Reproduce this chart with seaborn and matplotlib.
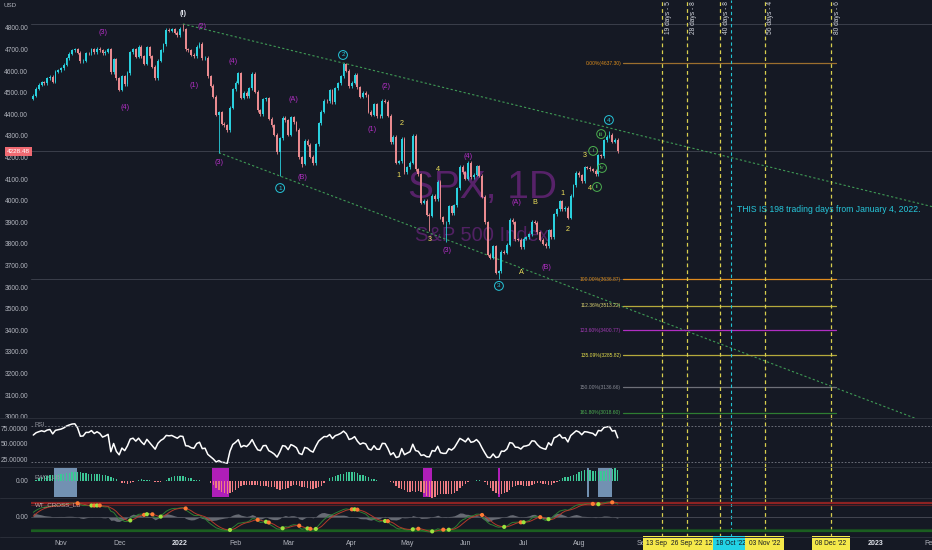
import numpy as np
import pandas as pd
import seaborn as sns
import matplotlib.pyplot as plt
import matplotlib.transforms as mtransforms

# ---- S&P 500 daily closes ----
# warm-up closes before the first visible bar (only seed the indicators)
warm_aug21 = [4479.53, 4486.23, 4496.19, 4470.00, 4509.37, 4528.79, 4522.68]
warm_sep21 = [4524.09, 4536.95, 4535.43, 4520.03, 4514.07, 4493.28, 4458.58, 4468.73,
              4443.05, 4480.70, 4473.75, 4432.99, 4357.73, 4354.19, 4395.64, 4448.98,
              4455.48, 4443.11, 4352.63, 4359.46, 4307.54]
warm_oct21 = [4357.04, 4300.46, 4345.72, 4363.55, 4399.76, 4391.34, 4361.19, 4350.65,
              4363.80, 4438.26, 4471.37]

close_oct21 = [4486.46, 4519.63, 4536.19, 4549.78, 4544.90, 4566.48, 4574.79, 4551.68,
               4596.42, 4605.38]
close_nov21 = [4613.67, 4630.65, 4660.57, 4680.06, 4697.53, 4701.70, 4685.25, 4646.71,
               4649.27, 4682.85, 4682.80, 4700.90, 4688.67, 4704.54, 4697.96, 4682.94,
               4690.70, 4701.46, 4594.62, 4655.27, 4567.00]
close_dec21 = [4513.04, 4577.10, 4538.43, 4591.67, 4686.75, 4701.21, 4667.45, 4712.02,
               4668.97, 4634.09, 4709.85, 4668.67, 4620.64, 4568.02, 4649.23, 4696.56,
               4725.79, 4791.19, 4786.35, 4793.06, 4778.73, 4766.18]
close_jan22 = [4796.56, 4793.54, 4700.58, 4696.05, 4677.03, 4670.29, 4713.07, 4726.35,
               4659.03, 4662.85, 4577.11, 4532.76, 4482.73, 4397.94, 4410.13, 4356.45,
               4349.93, 4326.51, 4431.85, 4515.55]
close_feb22 = [4546.54, 4589.38, 4477.44, 4500.53, 4483.87, 4521.54, 4587.18, 4504.08,
               4418.64, 4401.67, 4471.07, 4475.01, 4380.26, 4348.87, 4304.76, 4225.50,
               4288.70, 4384.65, 4373.94]
close_mar22 = [4306.26, 4386.54, 4363.49, 4328.87, 4201.09, 4170.70, 4277.88, 4259.52,
               4204.31, 4173.11, 4262.45, 4357.86, 4411.67, 4463.12, 4461.18, 4511.61,
               4456.24, 4520.16, 4543.06, 4575.52, 4631.60, 4602.45, 4530.41]
close_apr22 = [4545.86, 4582.64, 4525.12, 4481.15, 4500.21, 4488.28, 4412.53, 4397.45,
               4446.59, 4392.59, 4391.69, 4462.21, 4459.45, 4393.66, 4271.78, 4296.12,
               4175.20, 4183.96, 4287.50, 4131.93]
close_may22 = [4155.38, 4175.48, 4300.17, 4146.87, 4123.34, 3991.24, 4001.05, 3935.18,
               3930.08, 4023.89, 4008.01, 4088.85, 3923.68, 3900.79, 3901.36, 3973.75,
               3941.48, 3978.73, 4057.84, 4158.24, 4132.15]
close_jun22 = [4101.23, 4176.82, 4108.54, 4121.43, 4160.68, 4115.77, 4017.82, 3900.86,
               3749.63, 3735.48, 3789.99, 3666.77, 3674.84, 3764.79, 3759.89, 3795.73,
               3911.74, 3900.11, 3821.55, 3818.83, 3785.38]
close_jul22 = [3825.33, 3831.39, 3845.08, 3902.62, 3899.38, 3854.43, 3818.80, 3801.78,
               3790.38, 3863.16, 3830.85, 3936.69, 3959.90, 3998.95, 3961.63, 3966.84,
               3921.05, 4023.61, 4072.43, 4130.29]
close_aug22 = [4118.63, 4091.19, 4155.17, 4151.94, 4145.19, 4140.06, 4122.47, 4210.24,
               4207.27, 4280.15, 4297.14, 4305.20, 4274.04, 4283.74, 4228.48]

# notable wick extremes
wick_dates = ['2022-01-04', '2022-01-24', '2022-02-24', '2022-03-08', '2022-03-29',
              '2022-05-20', '2022-06-17', '2022-08-16', '2021-12-01', '2022-05-12']
wick_prices = [4818.62, 4222.62, 4114.65, 4157.87, 4637.30, 3810.32, 3636.87, 4325.28,
               4510.27, 3858.87]

market_holidays = ['2021-11-25', '2021-12-24', '2022-01-17', '2022-02-21', '2022-04-15',
                   '2022-05-30', '2022-06-20', '2022-07-04', '2022-09-05', '2022-11-24',
                   '2022-12-26', '2023-01-02', '2023-01-16']

# fibonacci levels
fib_pct = ['0.00%', '100.00%', '112.36%', '123.60%', '135.09%', '150.00%', '161.80%']
fib_price = [4637.30, 3636.87, 3513.22, 3400.77, 3285.82, 3136.66, 3018.60]
fib_line_col = ['#9c6f2e', '#e08a1e', '#b5a93c', '#b02ec2', '#b5a93c', '#6e7079', '#2e7d32']
fib_text_col = ['#d98b1c', '#d98b1c', '#d8d070', '#a33bb5', '#e2dc4c', '#868993', '#4caf50']

# time cycle projections
cycle_dates = ['2022-09-13', '2022-09-26', '2022-10-12', '2022-11-03', '2022-12-08']
cycle_tags = ['19 days - 5', '28 days - 8', '40 days - 8', '56 days - 4', '80 days - 6']
cycle_boxes = ["13 Sep '22", "26 Sep '22", "12 Oct '22", "03 Nov '22", "08 Dec '22"]
mark_date = '2022-10-18'
mark_box = "18 Oct '22"

# elliott wave labels: text, bar index, price, kind
wave_text = ['(3)', '(4)', '(I)', '(2)', '(1)', '(4)', '(3)', '(A)', '(B)', '1', '2',
             '(2)', '(1)', '2', '1', '4', '(4)', '3', '(3)', '(A)', 'B', 'A', '(B)', '3',
             '1', '2', '3', 'i', 'iii', '4', 'iv', '4', 'ii']
wave_idx = [25.2, 33.1, 54.0, 60.9, 58.0, 72.1, 67.0, 93.8, 97.0, 89.1, 111.8,
            127.3, 122.3, 133.1, 132.0, 146.1, 156.9, 143.2, 149.3, 174.3, 181.1, 176.1,
            185.1, 168.1, 191.2, 193.0, 199.2, 202.1, 205.0, 207.8, 205.3, 201.0, 203.5]
wave_price = [4781, 4430, 4869, 4805, 4536, 4647, 4175, 4467, 4106, 4059, 4675,
              4531, 4332, 4360, 4119, 4143, 4203, 3823, 3772, 3994, 3994, 3670,
              3689, 3606, 4036, 3869, 4212, 4231, 4309, 4374, 4152, 4055, 4064]
wave_kind = ['p', 'p', 'w', 'p', 'p', 'p', 'p', 'p', 'p', 'c', 'c',
             'p', 'p', 'y', 'y', 'y', 'p', 'y', 'p', 'p', 'y', 'y', 'p', 'c',
             'y', 'y', 'y', 'g', 'g', 'c', 'g', 'y', 'g']

# oscillator highlight boxes (bar index ranges)
blue_spans = [(7.5, 15.8), (199.9, 200.6), (203.9, 208.9)]
magenta_spans = [(64.5, 70.7), (140.7, 143.9), (167.8, 168.5)]

# ---------------------------------------------------------------
BG = '#151924'
TXT = '#b2b5be'
UP = '#2ad0de'
DOWN = '#e98a8f'

warm = warm_aug21 + warm_sep21 + warm_oct21
closes = (close_oct21 + close_nov21 + close_dec21 + close_jan22 + close_feb22 + close_mar22
          + close_apr22 + close_may22 + close_jun22 + close_jul22 + close_aug22)
n_warm = len(warm)
dates = pd.bdate_range('2021-10-18', '2022-08-19', freq='C', holidays=market_holidays)
future = pd.bdate_range('2022-08-22', '2023-03-31', freq='C', holidays=market_holidays)
assert len(dates) == len(closes)
calendar = dates.append(future)
pos = pd.Series(np.arange(len(calendar)), index=calendar)

allc = pd.Series(warm + closes, dtype=float)
x = np.arange(len(closes))
df = pd.DataFrame({'x': x, 'close': closes})
df['open'] = allc.shift(1).iloc[n_warm:].values
df['lo'] = df[['open', 'close']].min(axis=1) - 7
df['hi'] = df[['open', 'close']].max(axis=1) + 7
for d, p in zip(wick_dates, wick_prices):
    i = pos[pd.Timestamp(d)]
    if p < df.loc[i, 'lo']:
        df.loc[i, 'lo'] = p
    else:
        df.loc[i, 'hi'] = max(p, df.loc[i, 'hi'])

# indicators
RSI_LEN = 10
delta = allc.diff()
up = delta.clip(lower=0).ewm(alpha=1 / RSI_LEN, adjust=False).mean()
dn = (-delta.clip(upper=0)).ewm(alpha=1 / RSI_LEN, adjust=False).mean()
rsi = (100 - 100 / (1 + up / dn)).iloc[n_warm:].values

ewo = (allc.rolling(5).mean() - allc.rolling(35).mean()).iloc[n_warm:].values

esa = allc.ewm(span=10, adjust=False).mean()
dev = (allc - esa).abs().ewm(span=10, adjust=False).mean()
ci = (allc - esa) / (0.015 * dev)
wt1_all = ci.ewm(span=21, adjust=False).mean()
wt2_all = wt1_all.rolling(4).mean()
wt1 = wt1_all.iloc[n_warm:].values
wt2 = wt2_all.iloc[n_warm:].values
diff = wt1 - wt2
cross = np.r_[False, np.sign(diff[1:]) != np.sign(diff[:-1])]

sns.set_theme(style='dark', rc={'axes.facecolor': BG, 'figure.facecolor': BG,
                                'axes.edgecolor': BG, 'text.color': TXT})
plt.rcParams['font.family'] = ['Liberation Sans', 'DejaVu Sans']

W, H = 932, 550
fig = plt.figure(figsize=(W / 100, H / 100), dpi=100)
L = 31 / W


def pane(top, bottom):
    return fig.add_axes([L, (H - bottom) / H, 1 - L, (bottom - top) / H])


ax = pane(0, 418)
ax_rsi = pane(418, 467)
ax_ewo = pane(467, 498)
ax_wt = pane(498, 537)
axes = [ax, ax_rsi, ax_ewo, ax_wt]

XMIN, XMAX = -0.83, 324.44
for a in axes:
    a.set_facecolor(BG)
    for s in a.spines.values():
        s.set_visible(False)
    a.tick_params(axis='both', length=0, labelsize=4.8, labelcolor=TXT, pad=2)

# ---- main price pane ----
ticks = np.arange(3000, 4801, 100)
ax.set_yticks(ticks)
ax.set_yticklabels([f'{t:.2f}' for t in ticks])
ax.text(-0.031, 0.992, 'USD', transform=ax.transAxes, fontsize=4.5, color=TXT, va='top')

ax.text(162, 4059, 'SPX, 1D', fontsize=28, color='#8e2aa3', alpha=0.55, ha='center',
        va='center', zorder=0)
ax.text(162, 3837, 'S&P 500 Index', fontsize=14.5, color='#8e2aa3', alpha=0.5,
        ha='center', va='center', zorder=0)

for p in [4818.62, closes[-1], 3636.87]:
    ax.axhline(p, color='#3b3f4b', lw=0.7, zorder=1)

up_mask = df['close'] >= df['open']
cols = np.where(up_mask, UP, DOWN)
ax.vlines(df['x'], df['lo'], df['hi'], colors=cols, lw=0.6, zorder=3)
ax.bar(df['x'], (df['close'] - df['open']).abs().clip(lower=2.5),
       bottom=df[['open', 'close']].min(axis=1), width=0.68, color=cols, zorder=4,
       linewidth=0)

# price tag
tr = mtransforms.blended_transform_factory(ax.transAxes, ax.transData)
ax.text(-0.0015, closes[-1], f'{closes[-1]:.2f}', transform=tr, ha='right', va='center',
        fontsize=4.6, color='white',
        bbox=dict(boxstyle='square,pad=0.3', fc='#f06a72', ec='none'))


# trend channel
def ray(ax_, x0, y0, x1, y1):
    slope = (y1 - y0) / (x1 - x0)
    ax_.plot([x0, XMAX], [y0, y0 + slope * (XMAX - x0)], color='#3f9a55', lw=0.8,
             ls=(0, (2, 2)), zorder=2)


ray(ax, 54, 4818.62, 112, 4637.30)
ray(ax, 67, 4222.62, 318, 2995)

# fibonacci levels
fx0, fx1 = pos[pd.Timestamp('2022-08-22')] + 1, pos[pd.Timestamp('2022-12-09')] + 0.7
for pct, p, lc, tc in zip(fib_pct, fib_price, fib_line_col, fib_text_col):
    ax.plot([fx0, fx1], [p, p], color=lc, lw=0.9, zorder=2)
    ax.text(fx0 - 0.8, p, f'{pct}({p:.2f})', color=tc, fontsize=3.6, ha='right',
            va='center')

# cycle lines
for a in axes:
    for d in cycle_dates:
        a.axvline(pos[pd.Timestamp(d)], color='#d8cf4e', lw=0.9, ls=(0, (3, 2.5)), zorder=2)
    a.axvline(pos[pd.Timestamp(mark_date)], color='#22c4d4', lw=0.8, ls=(0, (3, 2.5)),
              zorder=2)
ttr = mtransforms.blended_transform_factory(ax.transData, ax.transAxes)
for d, t in zip(cycle_dates, cycle_tags):
    ax.text(pos[pd.Timestamp(d)] + 0.9, 0.997, t, transform=ttr, rotation=90, fontsize=4.8,
            color='#d1d4dc', ha='left', va='top')

ax.text(254, 3962, 'THIS IS 198 trading days from January 4, 2022.', color='#26c6da',
        fontsize=6.2, ha='left', va='center')

# wave labels
styles = {'p': dict(color='#b52fc7'), 'w': dict(color='#e0e3eb'),
          'y': dict(color='#efe15a'), 'c': dict(color='#26c6da'),
          'g': dict(color='#4caf50')}
for t, xi, pr, k in zip(wave_text, wave_idx, wave_price, wave_kind):
    kw = dict(fontsize=5.2, ha='center', va='center', zorder=6, **styles[k])
    if k in 'cg':
        kw['fontsize'] = 4.6
        kw['bbox'] = dict(boxstyle='circle,pad=0.3', fc='none', ec=styles[k]['color'],
                          lw=0.7)
    if k == 'w':
        kw['fontweight'] = 'bold'
    ax.text(xi, pr, t, **kw)

# ---- RSI pane ----
sns.lineplot(x=x, y=rsi, ax=ax_rsi, color='white', lw=1.1)
for lvl in (80, 20):
    ax_rsi.axhline(lvl, color='#787b86', lw=0.6, ls=(0, (2, 2)))
ax_rsi.set_yticks([75, 50, 25])
ax_rsi.set_yticklabels(['75.00000', '50.00000', '25.00000'])
ax_rsi.text(0.004, 0.86, 'RSI', transform=ax_rsi.transAxes, fontsize=4.5, color='#9598a1',
            va='center')

# ---- EWO pane ----
for a0, a1 in blue_spans:
    ax_ewo.axvspan(a0, a1, ymin=0.03, ymax=0.97, color='#7d9fc2', alpha=0.9, lw=0, zorder=1)
for a0, a1 in magenta_spans:
    ax_ewo.axvspan(a0, a1, ymin=0.03, ymax=0.97, color='#c21fc9', alpha=0.9, lw=0, zorder=1)
ax_ewo.bar(x, ewo, width=0.5, color=np.where(ewo >= 0, '#3cc796', '#f07d84'), zorder=2,
           linewidth=0)
ax_ewo.set_yticks([0])
ax_ewo.set_yticklabels(['0.00'])
ax_ewo.text(0.004, 0.68, 'EWO_LB', transform=ax_ewo.transAxes, fontsize=4.5,
            color='#9598a1', va='center')

# ---- WaveTrend pane ----
ax_wt.axhline(60, color='#8e2323', lw=1.6)
ax_wt.axhline(53, color='#8e2323', lw=0.8, alpha=0.6)
ax_wt.axhline(-60, color='#1b5e20', lw=1.6)
ax_wt.axhline(-53, color='#1b5e20', lw=0.8, alpha=0.6)
ax_wt.axhline(0, color='#555862', lw=0.5)
ax_wt.fill_between(x, 0, diff, color='#8a8d96', alpha=0.7, lw=0)
sns.lineplot(x=x, y=wt1, ax=ax_wt, color='#2e7d32', lw=0.7)
sns.lineplot(x=x, y=wt2, ax=ax_wt, color='#b23a2a', lw=0.7)
dots = pd.DataFrame({'x': x[cross], 'y': wt2[cross],
                     'c': np.where(diff[cross] < 0, 'dn', 'up')})
sns.scatterplot(data=dots, x='x', y='y', hue='c', palette={'dn': '#ff7a35', 'up': '#9be33f'},
                s=9, linewidth=0, ax=ax_wt, legend=False, zorder=5)
ax_wt.set_yticks([0])
ax_wt.set_yticklabels(['0.00'])
ax_wt.text(0.004, 0.82, 'WT_CROSS_LB', transform=ax_wt.transAxes, fontsize=4.5,
           color='#c9a9a9', va='center')

# limits last, after seaborn has autoscaled
ax.set_ylim(2994.4, 4929.6)
ax_rsi.set_ylim(11.8, 92.7)
ax_ewo.set_ylim(-360, 296)
ax_wt.set_ylim(-85.7, 81.4)
for a in axes:
    a.set_xlim(XMIN, XMAX)
    a.set_xlabel('')
    a.set_ylabel('')
for a in axes[:3]:
    a.set_xticks([])

# time axis
month_starts = pd.Series(calendar).groupby([calendar.year, calendar.month]).first()
tick_pos, tick_lab = [], []
for d in month_starts:
    if d < pd.Timestamp('2021-11-01'):
        continue
    tick_pos.append(pos[d])
    tick_lab.append(str(d.year) if d.month == 1 else d.strftime('%b'))
ax_wt.set_xticks(tick_pos)
ax_wt.set_xticklabels(tick_lab)
ax_wt.set_xlim(XMIN, XMAX)
ax_wt.tick_params(axis='x', labelsize=5, labelcolor=TXT, pad=2.5)
for lab in ax_wt.get_xticklabels():
    if lab.get_text().isdigit():
        lab.set_fontweight('bold')
        lab.set_color('#e0e3eb')

btr = mtransforms.blended_transform_factory(ax_wt.transData, ax_wt.transAxes)
box_items = list(zip(cycle_dates[:3], cycle_boxes[:3], ['#f5e94a'] * 3))
box_items += [(mark_date, mark_box, '#22d3e6')]
box_items += list(zip(cycle_dates[3:], cycle_boxes[3:], ['#f5e94a'] * 2))
for d, t, c in box_items:
    ax_wt.text(pos[pd.Timestamp(d)], -0.17, t, transform=btr, ha='center', va='center',
               fontsize=4.8, color='#131722', clip_on=False, zorder=10,
               bbox=dict(boxstyle='square,pad=0.55', fc=c, ec='none'))

# pane separators
for yp in (418, 467, 498, 537):
    fig.add_artist(plt.Line2D([0, 1], [(H - yp) / H] * 2, color='#2a2e39', lw=0.7))

fig.savefig('out.png', dpi=100, facecolor=BG)
